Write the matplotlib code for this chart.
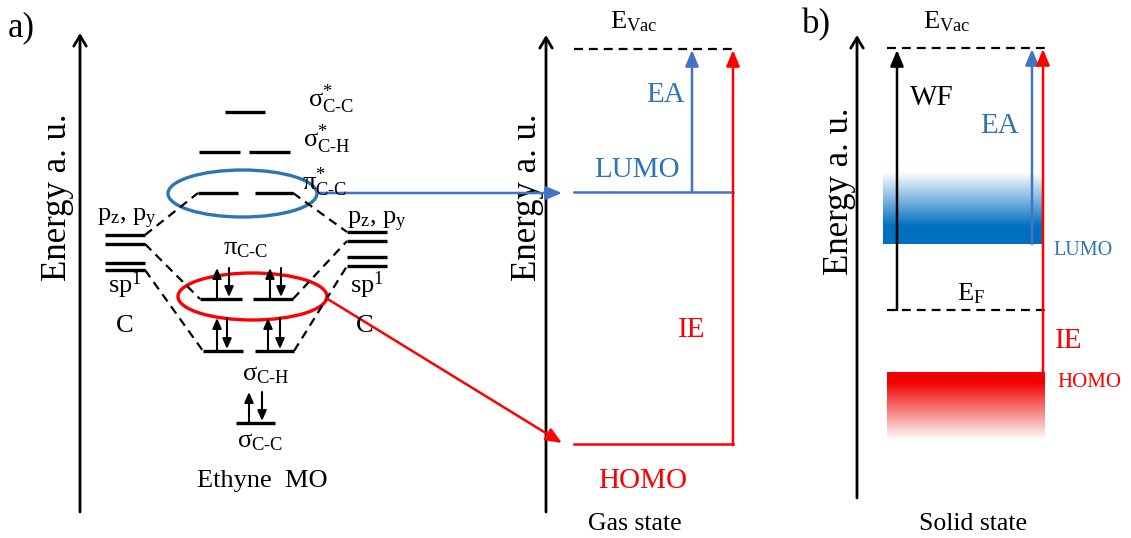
import numpy as np
import matplotlib
matplotlib.use('Agg')
import matplotlib.pyplot as plt
import matplotlib.colors as mcolors
from matplotlib.patches import Ellipse

plt.rcParams['font.family'] = ['Liberation Serif', 'DejaVu Serif']
plt.rcParams['mathtext.fontset'] = 'custom'
plt.rcParams['mathtext.rm'] = 'Liberation Serif'
plt.rcParams['mathtext.it'] = 'Liberation Serif:italic'
plt.rcParams['mathtext.bf'] = 'Liberation Serif:bold'

BLUE = '#4472C4'
BLUE_TXT = '#2E75B6'
BAND_BLUE = '#0070C0'
RED = '#FF0000'

# --- layout data (pixel coords, y down) ---
# energy axes: x, top, bottom, label centre x
axes_x = [80, 546, 857]
axes_top = [33, 35, 35]
axes_bot = [512, 512, 498]
label_x = [57, 527, 839]
label_y = [197, 197, 191]

# ethyne MO levels: (x0, x1, y)
empty_levels = [(225, 265, 112), (199, 240, 152), (249, 290, 152),
                (198, 238, 193), (255, 293, 193)]
filled_levels = [(200, 242, 299), (253, 293, 299),
                 (203, 243, 351), (255, 294, 351), (236, 275, 423)]
# electron pairs: (x_up, x_down, y_level, y_top)
electrons = [(217, 229, 299, 268), (270, 281, 299, 268),
             (217, 227, 351, 318), (268, 280, 351, 318), (249, 262, 423, 392)]
atom_left = [(105, 145, 235), (105, 145, 244), (105, 145, 263), (105, 145, 270)]
atom_right = [(347, 387, 232), (347, 387, 241), (347, 387, 257), (347, 387, 266)]
correlation = [((145, 235), (198, 193)), ((145, 244), (200, 299)),
               ((145, 270), (203, 351)), ((293, 193), (347, 232)),
               ((293, 299), (347, 241)), ((294, 351), (347, 266))]

# gas state
gas_vac, gas_lumo, gas_homo = 49, 192, 444
gas_x0, gas_ea_x, gas_ie_x = 574, 692, 733

# solid state
sol_vac, sol_ef = 48, 310
sol_x0, sol_x1 = 887, 1047
sol_wf_x, sol_ea_x, sol_ie_x = 897, 1032, 1043
lumo_band = (883, 1043, 172, 244)
homo_band = (887, 1045, 372, 440)

fig = plt.figure(figsize=(11.31, 5.38), dpi=100)
ax = fig.add_axes([0, 0, 1, 1])


def arrow(x0, y0, x1, y1, color='k', lw=1.6, style='-|>,head_length=0.6,head_width=0.25', ms=16):
    ax.annotate('', xy=(x1, y1), xytext=(x0, y0),
                arrowprops=dict(arrowstyle=style, color=color, lw=lw,
                                shrinkA=0, shrinkB=0, mutation_scale=ms))


def dashed(x0, y0, x1, y1, lw=1.6):
    ax.plot([x0, x1], [y0, y1], color='k', lw=lw, ls=(0, (4, 2.7)), solid_capstyle='butt')


# energy axes
for i, x in enumerate(axes_x):
    arrow(x, axes_bot[i], x, axes_top[i], lw=2.0,
          style='->,head_length=0.5,head_width=0.3', ms=15)
    ax.text(label_x[i], label_y[i], 'Energy a. u.', fontsize=25, rotation=90,
            ha='center', va='center')

# MO levels
for x0, x1, y in empty_levels + filled_levels + atom_left + atom_right:
    ax.plot([x0, x1], [y, y], color='k', lw=2.4, solid_capstyle='butt')
for xu, xd, yl, yt in electrons:
    arrow(xu, yl, xu, yt, lw=1.5, style='-|>,head_length=0.5,head_width=0.22', ms=12)
    arrow(xd, yt, xd, yl - 2, lw=1.5, style='-|>,head_length=0.5,head_width=0.22', ms=12)
for (a, b) in correlation:
    dashed(a[0], a[1], b[0], b[1])

ax.add_patch(Ellipse((242.5, 193.5), 149, 47, fill=False, ec=BLUE_TXT, lw=2.4))
ax.add_patch(Ellipse((252.5, 296.5), 149, 47, fill=False, ec=RED, lw=2.4))
arrow(317, 193, 562, 193, color=BLUE, lw=1.8)
arrow(326, 298, 562, 443, color=RED, lw=1.8)

fs = 19
ax.text(308, 107, r'$\mathrm{σ}^{*}_{\text{C-C}}$', fontsize=fs)
ax.text(303, 147, r'$\mathrm{σ}^{*}_{\text{C-H}}$', fontsize=fs)
ax.text(302, 190, r'$\mathrm{π}^{*}_{\text{C-C}}$', fontsize=fs)
ax.text(223, 254, r'$\mathrm{π}_{\text{C-C}}$', fontsize=fs)
ax.text(242, 380, r'$\mathrm{σ}_{\text{C-H}}$', fontsize=fs)
ax.text(237, 447, r'$\mathrm{σ}_{\text{C-C}}$', fontsize=fs)
ax.text(97, 221, r'p$_{\mathrm{z}}$, p$_{\mathrm{y}}$', fontsize=fs)
ax.text(347, 224, r'p$_{\mathrm{z}}$, p$_{\mathrm{y}}$', fontsize=fs)
ax.text(108, 293, r'sp$^{1}$', fontsize=fs)
ax.text(350, 293, r'sp$^{1}$', fontsize=fs)
ax.text(125, 332, 'C', fontsize=fs, ha='center')
ax.text(365, 332, 'C', fontsize=fs, ha='center')
ax.text(262, 487, 'Ethyne  MO', fontsize=fs, ha='center')
ax.text(8, 36, 'a)', fontsize=25)
ax.text(802, 33, 'b)', fontsize=25)

# gas state
dashed(gas_x0, gas_vac, gas_ie_x, gas_vac)
ax.plot([gas_x0, gas_ie_x], [gas_lumo, gas_lumo], color=BLUE, lw=1.8)
ax.plot([gas_x0, gas_ie_x], [gas_homo, gas_homo], color=RED, lw=1.8)
arrow(gas_ea_x, gas_lumo, gas_ea_x, gas_vac + 1, color=BLUE, lw=1.8)
arrow(gas_ie_x, gas_homo + 1, gas_ie_x, gas_vac + 1, color=RED, lw=1.8)
ax.text(610, 28, r'E$_{\mathrm{Vac}}$', fontsize=fs)
ax.text(685, 102, 'EA', fontsize=21, color=BLUE_TXT, ha='right')
ax.text(637, 177, 'LUMO', fontsize=21, color=BLUE_TXT, ha='center')
ax.text(692, 337, 'IE', fontsize=21, color=RED, ha='center')
ax.text(643, 488, 'HOMO', fontsize=21, color=RED, ha='center')
ax.text(635, 530, 'Gas state', fontsize=18.5, ha='center')

# solid state bands
n = 200
t = np.linspace(0, 1, n)
img = np.zeros((n, 1, 4))
img[..., :3] = mcolors.to_rgb(BAND_BLUE)
img[:, 0, 3] = np.clip(t / 0.75, 0, 1)
ax.imshow(img, extent=(lumo_band[0], lumo_band[1], lumo_band[3], lumo_band[2]),
          aspect='auto', interpolation='bilinear', origin='upper', zorder=1)
img2 = np.zeros((n, 1, 4))
img2[..., :3] = mcolors.to_rgb('#F00000')
img2[:, 0, 3] = np.clip((1 - t) / 0.85, 0, 1)
ax.imshow(img2, extent=(homo_band[0], homo_band[1], homo_band[3], homo_band[2]),
          aspect='auto', interpolation='bilinear', origin='upper', zorder=1)

dashed(sol_x0, sol_vac, sol_x1, sol_vac)
dashed(sol_x0, sol_ef, sol_x1, sol_ef)
arrow(sol_wf_x, sol_ef, sol_wf_x, sol_vac + 2, lw=1.8)
arrow(sol_ea_x, lumo_band[3], sol_ea_x, sol_vac + 1, color=BLUE, lw=1.8)
arrow(sol_ie_x, homo_band[2], sol_ie_x, sol_vac + 1, color=RED, lw=1.8)
ax.text(923, 28, r'E$_{\mathrm{Vac}}$', fontsize=fs)
ax.text(910, 105, 'WF', fontsize=21)
ax.text(980, 133, 'EA', fontsize=21, color=BLUE_TXT)
ax.text(1053, 255, 'LUMO', fontsize=14.5, color=BLUE_TXT)
ax.text(957, 300, r'E$_{\mathrm{F}}$', fontsize=fs)
ax.text(1055, 348, 'IE', fontsize=21, color=RED)
ax.text(1057, 387, 'HOMO', fontsize=15, color=RED)
ax.text(973, 530, 'Solid state', fontsize=18.5, ha='center')

ax.set_xlim(0, 1131)
ax.set_ylim(538, 0)
ax.set_aspect('auto')
ax.axis('off')
fig.savefig('out.png', dpi=100)
